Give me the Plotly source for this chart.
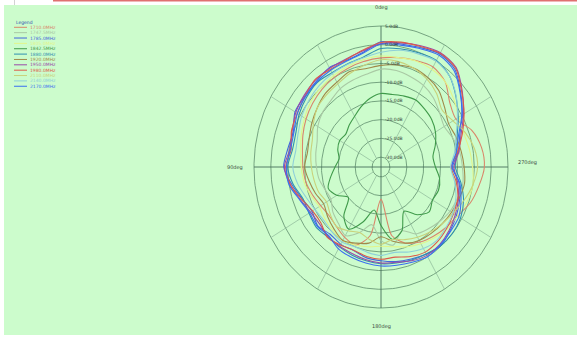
import numpy as np
import plotly.graph_objects as go

# Measurement angles (degrees, counter-clockwise from the top direction)
ANGLES_DEG = list(range(0, 360, 10))

# Gain per frequency (dB), one value per angle
GAIN_1710 = [-3.5, -4.0, -4.5, -5.0, -5.5, -6.2, -7.0, -8.0, -9.0, -9.5, -10.0, -11.0, -12.0, -12.5, -12.0, -11.0, -10.5, -14.0, -24.0, -14.0, -11.0, -9.5, -8.5, -7.5, -6.5, -4.5, -3.2, -2.0, -2.4, -4.0, -7.0, -6.0, -3.0, -1.8, -2.4, -3.0]
GAIN_1747 = [-6.5, -7.5, -8.0, -8.5, -9.5, -10.0, -11.0, -12.5, -13.0, -13.5, -14.0, -15.0, -15.5, -14.0, -13.0, -11.5, -14.0, -17.0, -13.0, -11.5, -14.5, -12.0, -11.0, -10.0, -9.0, -8.5, -8.0, -8.5, -9.0, -10.0, -11.0, -10.0, -8.5, -7.5, -7.0, -6.5]
GAIN_1785 = [0.8, -1.6, -2.4, -2.0, -2.8, -3.2, -3.2, -5.0, -4.6, -3.8, -5.8, -7.8, -9.0, -8.2, -9.2, -8.8, -8.9, -8.0, -7.6, -7.0, -6.5, -5.8, -5.2, -6.0, -6.8, -7.8, -9.2, -11.4, -9.4, -7.8, -4.8, -1.8, 1.4, 2.2, 1.3, 0.7]
GAIN_1805 = [-3.0, -3.5, -4.0, -4.5, -5.0, -5.5, -6.5, -7.5, -8.5, -9.0, -9.5, -10.5, -11.5, -11.0, -10.5, -10.0, -10.5, -11.0, -11.5, -11.0, -10.0, -9.0, -8.0, -7.0, -6.5, -5.5, -5.0, -5.5, -6.0, -6.5, -6.0, -4.5, -3.0, -2.5, -2.5, -3.0]
GAIN_1842 = [-13.0, -14.0, -15.5, -17.0, -18.0, -19.0, -18.5, -19.0, -20.0, -19.0, -17.5, -16.0, -17.5, -20.0, -15.5, -13.5, -17.0, -21.0, -17.0, -13.0, -14.5, -19.0, -16.0, -14.0, -15.0, -14.5, -15.0, -16.5, -17.0, -15.5, -14.0, -13.0, -12.5, -12.0, -12.5, -13.0]
GAIN_1880 = [-1.0, -2.8, -3.4, -3.6, -3.2, -3.8, -4.6, -5.8, -6.0, -5.0, -6.2, -8.0, -8.0, -7.6, -8.2, -8.0, -7.6, -7.2, -6.8, -6.6, -6.2, -5.8, -5.2, -5.0, -5.4, -6.6, -8.6, -10.6, -9.8, -8.6, -6.2, -3.6, -1.0, 0.2, -0.2, -0.6]
GAIN_1920 = [-5.5, -6.0, -5.5, -6.5, -7.0, -8.0, -9.0, -10.0, -10.5, -10.0, -11.0, -12.0, -13.0, -12.0, -11.0, -10.0, -11.0, -12.0, -14.0, -12.5, -11.0, -10.0, -9.5, -9.0, -8.5, -8.0, -7.5, -8.0, -8.5, -9.0, -9.5, -8.0, -6.0, -5.0, -4.5, -5.0]
GAIN_1950 = [0.3, -1.2, -2.0, -2.2, -2.4, -2.9, -3.5, -4.6, -5.2, -4.0, -5.3, -7.2, -8.5, -8.9, -8.4, -8.2, -8.0, -7.5, -7.0, -6.8, -6.0, -5.4, -5.6, -6.3, -7.2, -8.2, -9.6, -11.0, -9.2, -7.4, -4.4, -1.2, 2.0, 2.6, 1.8, 1.0]
GAIN_1980 = [0.6, -1.0, -2.2, -2.6, -2.2, -3.3, -4.0, -4.4, -5.6, -4.4, -5.4, -7.6, -9.2, -9.4, -8.0, -8.6, -9.0, -8.4, -8.0, -8.2, -7.2, -6.4, -6.6, -7.2, -7.8, -8.4, -10.0, -11.8, -9.6, -7.0, -4.2, -1.4, 1.8, 2.4, 1.6, 1.2]
GAIN_2110 = [-4.0, -5.0, -6.0, -7.0, -7.5, -8.0, -9.5, -11.0, -11.5, -12.0, -12.5, -13.0, -14.0, -13.0, -12.0, -13.0, -14.0, -13.0, -12.0, -13.0, -12.0, -11.0, -10.0, -9.0, -8.0, -6.5, -5.0, -4.0, -4.5, -6.0, -8.0, -9.0, -7.0, -5.5, -4.5, -4.0]
GAIN_2140 = [-2.0, -3.0, -3.5, -3.8, -4.2, -4.8, -5.5, -6.5, -7.0, -6.5, -7.5, -9.0, -10.0, -10.5, -10.0, -9.5, -10.0, -9.5, -9.0, -9.5, -8.5, -7.5, -7.0, -7.5, -8.0, -9.0, -10.5, -12.0, -10.5, -9.0, -6.5, -3.5, -1.0, 0.0, -0.5, -1.0]
GAIN_2170 = [0.2, -1.8, -2.6, -2.8, -3.0, -3.4, -4.0, -5.2, -5.4, -4.6, -5.0, -7.0, -8.2, -8.0, -8.6, -7.4, -7.0, -6.6, -6.2, -6.0, -5.6, -5.0, -5.4, -5.8, -6.0, -7.4, -9.0, -11.6, -10.0, -8.2, -5.0, -2.0, 1.0, 1.8, 1.0, 0.4]

FREQ_LABELS = ["1710.0MHz", "1747.5MHz", "1785.0MHz", "1805.0MHz", "1842.5MHz", "1880.0MHz",
               "1920.0MHz", "1950.0MHz", "1980.0MHz", "2110.0MHz", "2140.0MHz", "2170.0MHz"]
SERIES = [GAIN_1710, GAIN_1747, GAIN_1785, GAIN_1805, GAIN_1842, GAIN_1880,
          GAIN_1920, GAIN_1950, GAIN_1980, GAIN_2110, GAIN_2140, GAIN_2170]
COLORS = ["#d9876a", "#a9c9a4", "#4466dd", "#e2f58a", "#3f9a4a", "#2f8fb0",
          "#a08a4a", "#9a4aa8", "#dd5a4a", "#c9d27a", "#8fd0d8", "#3a6ff0"]

# Radial scale
R_TICKS = [5, 0, -5, -10, -15, -20, -25, -30]
R_TICK_LABELS = ["5.0dB", "0.0dB", "-5.0dB", "-10.0dB", "-15.0dB", "-20.0dB", "-25.0dB", "-30.0dB"]
R_MIN, R_MAX = -30.0, 5.0
HOLE = 0.07
DIR_ANGLES = [0, 90, 180, 270]
DIR_LABELS = ["0deg", "90deg", "180deg", "270deg"]

# Page geometry (pixels)
W, H = 577, 339
CX, CY = 381, 167        # pattern centre
RX, RY = 127, 141        # outer ring half-width / half-height
XSPAN, YSPAN = 1.3, 1.15


def to_unit(db):
    return HOLE + (np.asarray(db, dtype=float) - R_MIN) / (R_MAX - R_MIN) * (1 - HOLE)


def to_xy(angle_deg, u):
    t = np.radians(np.asarray(angle_deg, dtype=float))
    return -u * np.sin(t), u * np.cos(t)


fig = go.Figure()

grid_ring = "#5e8d6c"
grid_spoke = "#8cb898"
axis_col = "#46705a"

# rings
ring_t = np.linspace(0, 360, 241)
for r in R_TICKS:
    gx, gy = to_xy(ring_t, np.full_like(ring_t, to_unit(r)))
    fig.add_trace(go.Scatter(x=gx, y=gy, mode="lines", hoverinfo="skip",
                             line=dict(color=grid_ring, width=0.8), showlegend=False))

# spokes every 30 degrees
for a in range(0, 360, 30):
    main = a % 90 == 0
    u0 = 0.0 if main else to_unit(R_MIN)
    sx, sy = to_xy([a, a], np.array([u0, to_unit(R_MAX)]))
    fig.add_trace(go.Scatter(x=sx, y=sy, mode="lines", hoverinfo="skip",
                             line=dict(color=axis_col if main else grid_spoke,
                                       width=0.9 if main else 0.7),
                             showlegend=False))

# pattern curves
ang_closed = ANGLES_DEG + [ANGLES_DEG[0] + 360]
for name, vals, col in zip(FREQ_LABELS, SERIES, COLORS):
    v = list(vals) + [vals[0]]
    px, py = to_xy(ang_closed, to_unit(v))
    fig.add_trace(go.Scatter(x=px, y=py, mode="lines", name=name,
                             line=dict(color=col, width=1.1, shape="spline", smoothing=0.8),
                             showlegend=False))

annotations = []
# radial tick labels along the upper vertical axis
for r, lab in zip(R_TICKS, R_TICK_LABELS):
    annotations.append(dict(x=0.012, y=float(to_unit(r)), xref="x", yref="y", text=lab,
                            showarrow=False, xanchor="left", yanchor="middle",
                            font=dict(size=4.5, color="#2e3e34", family="DejaVu Sans")))

# direction labels
dir_pos = {0: (0, 1.13), 90: (-1.15, 0.0), 180: (0, -1.13), 270: (1.15, 0.03)}
for a, lab in zip(DIR_ANGLES, DIR_LABELS):
    x, y = dir_pos[a]
    annotations.append(dict(x=x, y=y, xref="x", yref="y", text=lab, showarrow=False,
                            xanchor="center", yanchor="middle",
                            font=dict(size=5, color="#3a4a40", family="DejaVu Sans")))

# legend block
shapes = []
annotations.append(dict(x=14 / W, y=1 - 22 / H, xref="paper", yref="paper", text="Legend",
                        showarrow=False, xanchor="left", yanchor="middle",
                        font=dict(size=4.5, color="#3050b0", family="DejaVu Sans")))
for i, (name, col) in enumerate(zip(FREQ_LABELS, COLORS)):
    yy = 27.3 + i * 5.36
    shapes.append(dict(type="line", xref="paper", yref="paper",
                       x0=14 / W, x1=27 / W, y0=1 - yy / H, y1=1 - yy / H,
                       line=dict(color=col, width=1)))
    annotations.append(dict(x=28 / W, y=1 - yy / H, xref="paper", yref="paper", text=name,
                            showarrow=False, xanchor="left", yanchor="middle",
                            font=dict(size=4.5, color=col, family="DejaVu Sans")))

# green panel and top rule
shapes.insert(0, dict(type="rect", xref="paper", yref="paper", layer="below",
                      x0=4 / W, x1=1, y0=1 - 335 / H, y1=1 - 5 / H,
                      fillcolor="#ccfccc", line=dict(width=0)))
shapes.append(dict(type="line", xref="paper", yref="paper", x0=53 / W, x1=1,
                   y0=1 - 0.8 / H, y1=1 - 0.8 / H, line=dict(color="#e07070", width=1.6)))
shapes.append(dict(type="line", xref="paper", yref="paper", x0=14.5 / W, x1=14.5 / W,
                   y0=1, y1=1 - 5 / H, line=dict(color="#c8c8c8", width=0.8)))

x_dom = [(CX - XSPAN * RX) / W, (CX + XSPAN * RX) / W]
y_dom = [1 - (CY + YSPAN * RY) / H, 1 - (CY - YSPAN * RY) / H]

fig.update_layout(
    width=W, height=H,
    margin=dict(l=0, r=0, t=0, b=0),
    paper_bgcolor="white",
    plot_bgcolor="rgba(0,0,0,0)",
    showlegend=False,
    xaxis=dict(range=[-XSPAN, XSPAN], domain=x_dom, visible=False, fixedrange=True),
    yaxis=dict(range=[-YSPAN, YSPAN], domain=y_dom, visible=False, fixedrange=True),
    shapes=shapes,
    annotations=annotations,
)

fig.write_html("out.html")
